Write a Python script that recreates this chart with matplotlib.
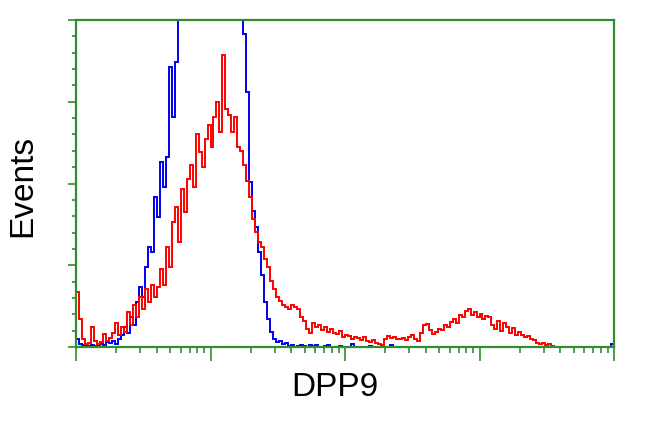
import numpy as np
import matplotlib
matplotlib.use('Agg')
import matplotlib.pyplot as plt
from matplotlib.ticker import FixedLocator, LogLocator, NullFormatter


# channel counts over 4 log decades, 180 channels
blue_counts = [
	8, 3, 2, 1, 1, 2, 1, 1, 3, 2, 5, 4, 6, 3, 8, 12, 20, 14, 30, 22,
	45, 60, 50, 80, 100, 95, 150, 130, 185, 160, 190, 280, 230, 285, 330, 360,
	380, 420, 450, 480, 500, 510, 520, 515, 505, 490, 475, 460, 445, 430, 415, 400, 385, 370, 352,
	340,
	313, 255, 165, 136, 120, 95, 72, 45, 28, 15, 8, 5, 6, 3, 4, 1, 2,
	0, 1, 2, 1, 0, 2, 1, 2, 0, 0, 1, 2, 0, 0, 0, 1, 0, 0, 0, 3,
	0, 0, 0, 0, 0, 1, 0, 0, 0, 0, 0, 0, 2, 0, 0, 0, 0, 0,
] + [0] * 68 + [3]

red_counts = [
	55, 28, 8, 3, 4, 20, 6, 3, 5, 13, 6, 9, 14, 24, 12, 20, 15, 35, 22, 42, 30, 50, 38, 58, 45, 62, 50,
	60, 78, 62, 100, 80, 125, 140, 105, 158, 135, 168, 182, 160, 213, 195,
	180, 208, 222, 200, 230, 245, 215, 292, 238, 232, 215, 230, 200, 196, 182, 166, 150, 128,
	115, 105, 100, 88, 80, 66, 58, 50, 46, 42, 40, 38, 42, 40, 38, 30, 26, 18, 14, 24,
	20, 22, 17, 20, 15, 18, 14, 13, 16, 10, 12, 11, 8, 10, 9, 7, 10, 6, 5, 7,
	4, 3, 2, 8, 11, 9, 10, 8, 8, 9, 7, 10, 12, 8, 6, 14, 22, 23, 17, 13,
	15, 18, 17, 22, 20, 25, 28, 24, 32, 30, 36, 38, 32, 35, 30, 33, 28, 31, 30, 22,
	18, 26, 16, 24, 20, 14, 19, 12, 15, 12, 10, 11, 8, 7, 4, 3, 4, 2, 3, 1,
] + [0] * 20

x_label = "DPP9"
y_label = "Events"
y_top = 327


def plot():

	"""Flow histogram: isotype (blue) vs stained (red)."""

	green = '#2f8f2f'
	edges = np.logspace(0, 4, len(red_counts) + 1)

	fig = plt.figure(figsize=(6.5, 4.31), dpi=100)
	ax = fig.add_axes([76 / 650, 83 / 431, 538 / 650, 327 / 431])

	ax.stairs(blue_counts, edges, color='#0000ee', lw=1.4)
	ax.stairs(red_counts, edges, color='#ff0000', lw=1.4)

	ax.set_xscale('log')
	ax.set_xlim(1, 1e4)
	ax.set_ylim(0, y_top)

	for s in ax.spines.values():
		s.set_color(green)
		s.set_linewidth(1.6)

	ax.xaxis.set_major_locator(LogLocator(base=10, numticks=10))
	ax.xaxis.set_minor_locator(LogLocator(base=10, subs=np.arange(2, 10), numticks=10))
	ax.xaxis.set_major_formatter(NullFormatter())
	ax.xaxis.set_minor_formatter(NullFormatter())
	ax.yaxis.set_major_locator(FixedLocator(np.linspace(0, y_top, 5)))
	ax.yaxis.set_minor_locator(FixedLocator(np.linspace(0, y_top, 21)))
	ax.yaxis.set_major_formatter(NullFormatter())

	ax.tick_params(axis='x', which='major', direction='out', length=10, width=1.2, color=green)
	ax.tick_params(axis='x', which='minor', direction='out', length=4, width=1.2, color=green)
	ax.tick_params(axis='y', which='major', direction='out', length=6, width=1.2, color=green)
	ax.tick_params(axis='y', which='minor', direction='out', length=3, width=1.2, color=green)

	fig.text(335 / 650, 1 - 388 / 431, x_label, ha='center', va='center',
		fontsize=24, family=['Liberation Sans', 'DejaVu Sans'])
	fig.text(23 / 650, 1 - 186 / 431, y_label, ha='center', va='center', rotation=90,
		fontsize=24, family=['Liberation Sans', 'DejaVu Sans'])

	fig.savefig('out.png', dpi=100)


def main():
	plot()


if __name__ == "__main__":
	main()
